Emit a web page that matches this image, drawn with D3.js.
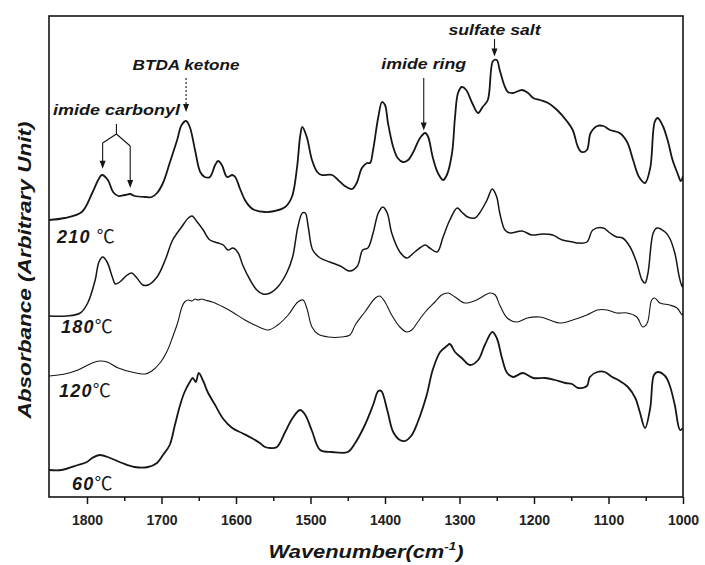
<!DOCTYPE html>
<html>
<head>
<meta charset="utf-8">
<script src="https://cdn.jsdelivr.net/npm/d3@7"></script>
<style>
  html, body { margin: 0; padding: 0; background: #fff; }
  svg { display: block; }
</style>
</head>
<body>
<svg id="chart" width="705" height="565"></svg>
<script>
// FTIR spectra of the film cured at four temperatures, stacked vertically.
// Each spectrum: [wavenumber (cm-1), absorbance relative to its own start (arb. unit)]
const temperatures = ["210", "180", "120", "60"];
const stackOffsets = [277, 181, 121, 26];

const spectrum210 = [
  [1851,0],[1830,2],[1807,8],[1793,27],[1785,40],[1780,45],[1772,40],[1765,28],[1758,24],[1749,25],
  [1742,26],[1736,24],[1722,23],[1713,23],[1706,27],[1698,37],[1689,57],[1679,80],[1673,95],[1667,99],
  [1662,93],[1655,70],[1648,48],[1642,43],[1635,43],[1628,55],[1624,59],[1619,55],[1612,43],[1605,45],
  [1601,43],[1595,32],[1588,20],[1581,13],[1575,10],[1561,8],[1548,9],[1534,13],[1525,23],[1518,53],
  [1514,83],[1511,93],[1505,83],[1498,60],[1491,48],[1485,45],[1471,45],[1463,40],[1454,34],[1444,31],
  [1438,37],[1431,52],[1424,57],[1420,57],[1416,70],[1409,103],[1404,118],[1400,115],[1396,97],[1389,73],
  [1383,62],[1376,58],[1369,60],[1362,68],[1353,82],[1346,87],[1342,83],[1336,63],[1329,47],[1322,40],
  [1317,45],[1310,67],[1306,103],[1302,127],[1297,133],[1291,130],[1283,117],[1275,107],[1269,113],[1262,120],
  [1255,159],[1250,160],[1246,150],[1240,135],[1235,128],[1228,127],[1216,130],[1208,127],[1201,122],[1192,120],
  [1181,117],[1169,110],[1156,99],[1148,90],[1141,73],[1136,68],[1129,70],[1124,87],[1115,94],[1107,94],
  [1098,90],[1085,87],[1075,78],[1067,60],[1059,43],[1051,37],[1044,52],[1038,98],[1034,102],[1027,94],
  [1020,78],[1014,60],[1007,46],[1003,39],[1000,44]
];

const spectrum180 = [
  [1851,0],[1827,0],[1809,3],[1799,13],[1789,36],[1784,54],[1779,59],[1773,54],[1766,39],[1762,32],
  [1756,34],[1746,41],[1740,43],[1733,38],[1725,31],[1718,31],[1706,39],[1695,56],[1685,76],[1673,89],
  [1664,98],[1659,100],[1652,94],[1644,86],[1635,76],[1624,73],[1617,71],[1611,66],[1604,68],[1597,63],
  [1591,51],[1581,36],[1572,26],[1564,22],[1554,23],[1544,29],[1532,43],[1524,59],[1517,89],[1511,103],
  [1507,103],[1503,89],[1497,66],[1487,58],[1474,54],[1460,50],[1447,45],[1437,50],[1430,66],[1423,68],
  [1416,83],[1409,103],[1403,109],[1397,103],[1391,83],[1380,64],[1371,58],[1360,64],[1346,71],[1340,68],
  [1330,64],[1322,79],[1313,96],[1303,108],[1297,104],[1289,99],[1279,98],[1273,103],[1263,116],[1256,127],
  [1250,119],[1246,103],[1239,86],[1232,83],[1216,85],[1203,81],[1188,82],[1175,81],[1162,76],[1148,74],
  [1141,73],[1129,74],[1121,86],[1107,88],[1098,83],[1089,79],[1081,78],[1071,69],[1062,53],[1055,36],
  [1051,33],[1047,43],[1040,83],[1035,88],[1024,84],[1018,78],[1011,63],[1005,39],[1001,29],[1000,33]
];

const spectrum120 = [
  [1851,0],[1830,2],[1812,6],[1793,13],[1783,15],[1773,14],[1758,8],[1740,4],[1722,2],[1713,5],
  [1702,13],[1693,24],[1685,39],[1678,54],[1673,68],[1669,74],[1664,76],[1659,75],[1655,77],[1651,76],
  [1646,77],[1642,76],[1632,74],[1617,69],[1605,64],[1588,56],[1575,51],[1557,46],[1544,51],[1530,61],
  [1517,74],[1510,76],[1505,68],[1498,49],[1490,42],[1476,39],[1458,39],[1447,41],[1440,51],[1427,64],
  [1413,78],[1407,80],[1400,74],[1391,61],[1380,49],[1371,44],[1364,46],[1356,54],[1346,64],[1333,74],
  [1324,81],[1315,83],[1306,79],[1293,73],[1277,76],[1259,83],[1252,81],[1246,71],[1236,58],[1223,54],
  [1209,58],[1192,59],[1179,56],[1165,53],[1148,56],[1129,61],[1115,66],[1102,66],[1089,63],[1075,63],
  [1062,59],[1054,49],[1048,53],[1042,76],[1038,78],[1031,73],[1018,71],[1008,68],[1001,61],[1000,63]
];

const spectrum60 = [
  [1851,1],[1834,1],[1812,6],[1800,9],[1793,13],[1783,16],[1769,13],[1753,8],[1736,4],[1718,4],
  [1706,8],[1698,16],[1689,26],[1682,46],[1675,66],[1669,79],[1662,89],[1658,93],[1654,89],[1650,98],
  [1644,90],[1638,79],[1628,66],[1617,52],[1605,43],[1592,38],[1579,33],[1568,28],[1561,24],[1554,23],
  [1545,24],[1534,39],[1524,53],[1514,61],[1507,56],[1498,40],[1487,21],[1471,19],[1450,19],[1440,28],
  [1427,46],[1416,66],[1409,80],[1405,80],[1397,61],[1389,39],[1380,31],[1373,30],[1364,36],[1356,49],
  [1344,76],[1336,101],[1326,119],[1317,125],[1313,127],[1306,119],[1297,113],[1286,106],[1275,111],[1266,126],
  [1256,139],[1250,133],[1243,113],[1236,98],[1228,94],[1215,98],[1201,93],[1185,93],[1172,91],[1158,88],
  [1149,87],[1141,83],[1129,85],[1125,94],[1115,99],[1105,99],[1095,94],[1087,91],[1074,84],[1064,73],
  [1058,59],[1051,43],[1044,63],[1039,96],[1034,99],[1024,95],[1018,86],[1011,66],[1004,41],[1000,43]
];

const spectra = [spectrum210, spectrum180, spectrum120, spectrum60];

const majorTicks = [1800, 1700, 1600, 1500, 1400, 1300, 1200, 1100, 1000];
const minorTicks = [1750, 1650, 1550, 1450, 1350, 1250, 1150, 1050];

// Band assignments marked on the 210 °C spectrum
const bandLabels = ["BTDA ketone", "imide ring", "sulfate salt"];
const bandWavenumbers = [1667, 1348, 1253];
const carbonylLabel = "imide carbonyl";
const carbonylWavenumbers = [1779, 1742];

const xTitle = "Wavenumber(cm";
const xTitleSup = "-1";
const yTitle = "Absorbance (Arbitrary Unit)";

// ---------------------------------------------------------------------------
const plot = { left: 49, right: 683, top: 16, bottom: 497 };
const ink = "#161616";
const sansFont = "'Liberation Sans', Arial, Helvetica, sans-serif";

const svg = d3.select("#chart");

const x = d3.scaleLinear().domain([1851, 1000]).range([plot.left, plot.right]);
const y = d3.scaleLinear().domain([0, 481]).range([plot.bottom, plot.top]);

svg.append("defs").append("clipPath").attr("id", "plot-clip")
  .append("rect")
  .attr("x", plot.left).attr("y", plot.top)
  .attr("width", plot.right - plot.left).attr("height", plot.bottom - plot.top);

// Spectra
const strokeWidths = [1.8, 1.5, 1.1, 1.8];
spectra.forEach((s, i) => {
  const off = stackOffsets[i];
  const line = d3.line()
    .x(d => x(d[0]))
    .y(d => y(d[1] + off))
    .curve(d3.curveCatmullRom.alpha(0.5));
  svg.append("path")
    .attr("clip-path", "url(#plot-clip)")
    .attr("d", line(s))
    .attr("fill", "none")
    .attr("stroke", ink)
    .attr("stroke-width", strokeWidths[i])
    .attr("stroke-linejoin", "round");
});

// Temperature labels under each spectrum
const labelX = [57, 61, 59, 72];
const labelDy = [23, 17, 21, 19];
temperatures.forEach((t, i) => {
  const txt = svg.append("text")
    .attr("x", labelX[i])
    .attr("y", y(stackOffsets[i]) + labelDy[i])
    .attr("fill", ink);
  txt.append("tspan")
    .attr("font-family", sansFont)
    .attr("font-size", 18)
    .attr("font-weight", "bold")
    .attr("font-style", "italic")
    .attr("letter-spacing", 1.2)
    .text(t + (i === 0 ? " " : ""));
  txt.append("tspan")
    .attr("font-family", "'Noto Sans CJK SC', 'DejaVu Sans', sans-serif")
    .attr("font-size", 18)
    .attr("font-weight", "normal")
    .text("℃");
});

// Frame
svg.append("rect")
  .attr("x", plot.left).attr("y", plot.top)
  .attr("width", plot.right - plot.left).attr("height", plot.bottom - plot.top)
  .attr("fill", "none").attr("stroke", ink).attr("stroke-width", 1.6);

// Bottom axis: major ticks with labels, minor ticks between
const axisMajor = svg.append("g")
  .attr("transform", `translate(0,${plot.bottom})`)
  .call(d3.axisBottom(x).tickValues(majorTicks).tickSize(7).tickFormat(d3.format("d")));
const axisMinor = svg.append("g")
  .attr("transform", `translate(0,${plot.bottom})`)
  .call(d3.axisBottom(x).tickValues(minorTicks).tickSize(4).tickFormat(""));
[axisMajor, axisMinor].forEach(g => {
  g.select(".domain").remove();
  g.selectAll(".tick line").attr("stroke", ink).attr("stroke-width", 1.5);
});
axisMajor.selectAll(".tick text")
  .attr("y", 28).attr("dy", 0)
  .attr("fill", "#222")
  .attr("font-family", sansFont)
  .attr("font-size", 14)
  .attr("font-weight", "bold");

// Axis titles
const xt = svg.append("text")
  .attr("x", (plot.left + plot.right) / 2)
  .attr("y", 558)
  .attr("text-anchor", "middle")
  .attr("fill", ink)
  .attr("font-family", sansFont)
  .attr("font-size", 18)
  .attr("font-weight", "bold")
  .attr("font-style", "italic")
  .attr("textLength", 195)
  .attr("lengthAdjust", "spacingAndGlyphs");
xt.append("tspan").text(xTitle);
xt.append("tspan").attr("font-size", 11).attr("dy", -8).text(xTitleSup);
xt.append("tspan").attr("dy", 8).text(")");

svg.append("text")
  .attr("transform", `translate(31,${270}) rotate(-90)`)
  .attr("text-anchor", "middle")
  .attr("fill", ink)
  .attr("font-family", sansFont)
  .attr("font-size", 18)
  .attr("font-weight", "bold")
  .attr("font-style", "italic")
  .attr("textLength", 297)
  .attr("lengthAdjust", "spacingAndGlyphs")
  .text(yTitle);

// Annotations on the top spectrum
function valueAt(series, wn) {
  for (let k = 0; k < series.length - 1; k++) {
    const a = series[k], b = series[k + 1];
    if (wn <= a[0] && wn >= b[0]) {
      const t = (a[0] - wn) / (a[0] - b[0]);
      return a[1] + t * (b[1] - a[1]);
    }
  }
  return series[series.length - 1][1];
}
const topSpectrum = spectrum210, topOffset = stackOffsets[0];
const tipY = (wn, gap) => y(valueAt(topSpectrum, wn) + topOffset) - gap;

function arrowHead(xp, yp) {
  svg.append("path")
    .attr("d", `M${xp},${yp} L${xp - 3},${yp - 8} L${xp + 3},${yp - 8} Z`)
    .attr("fill", ink);
}
function annotText(label, xp, yp, len) {
  svg.append("text")
    .attr("x", xp).attr("y", yp)
    .attr("text-anchor", "middle")
    .attr("fill", ink)
    .attr("font-family", sansFont)
    .attr("font-size", 14)
    .attr("font-weight", "bold")
    .attr("font-style", "italic")
    .attr("textLength", len)
    .attr("lengthAdjust", "spacingAndGlyphs")
    .text(label);
}

const bandTextY = [70, 69, 35];
const bandTextLen = [107, 85, 92];
const bandTail = [78, 78, 39];
const bandGap = [9, 4, 4];
const bandDash = ["2,2", null, null];
bandLabels.forEach((lab, i) => {
  const xp = x(bandWavenumbers[i]);
  annotText(lab, xp, bandTextY[i], bandTextLen[i]);
  const yt = tipY(bandWavenumbers[i], bandGap[i]);
  svg.append("line")
    .attr("x1", xp).attr("x2", xp)
    .attr("y1", bandTail[i]).attr("y2", yt - 6)
    .attr("stroke", ink).attr("stroke-width", 1.1)
    .attr("stroke-dasharray", bandDash[i]);
  arrowHead(xp, yt);
});

// Bracket pointing at the two imide carbonyl bands
const cx1 = x(carbonylWavenumbers[0]), cx2 = x(carbonylWavenumbers[1]);
const apexX = (cx1 + cx2) / 2;
annotText(carbonylLabel, apexX, 115, 127);
const tip1 = tipY(carbonylWavenumbers[0], 7);
const tip2 = tipY(carbonylWavenumbers[1], 6);
svg.append("path")
  .attr("d", `M${apexX},124 L${apexX},134 M${cx1},143 L${apexX},134 L${cx2},146` +
             ` M${cx1},143 L${cx1},${tip1 - 6} M${cx2},146 L${cx2},${tip2 - 6}`)
  .attr("fill", "none").attr("stroke", ink).attr("stroke-width", 1.1);
arrowHead(cx1, tip1);
arrowHead(cx2, tip2);
</script>
</body>
</html>
